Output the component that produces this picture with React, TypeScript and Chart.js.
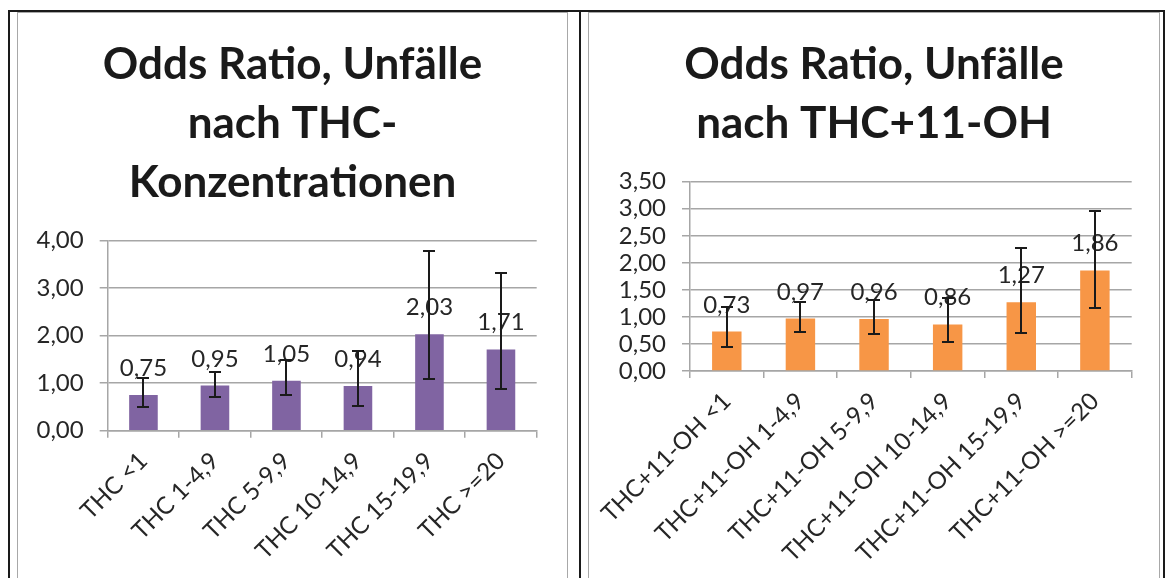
import React, { useEffect, useRef } from "react";
import { Chart, registerables } from "chart.js";

Chart.register(...registerables);

const thcCategories = ["THC <1", "THC 1-4,9", "THC 5-9,9", "THC 10-14,9", "THC 15-19,9", "THC >=20"];
const thcValues = [0.75, 0.95, 1.05, 0.94, 2.03, 1.71];
const thcUpper = [1.1, 1.24, 1.48, 1.67, 3.79, 3.32];
const thcLower = [0.5, 0.71, 0.75, 0.52, 1.08, 0.87];
const thcValueLabels = ["0,75", "0,95", "1,05", "0,94", "2,03", "1,71"];
const thcTicks = ["0,00", "1,00", "2,00", "3,00", "4,00"];
const thcTitle = ["Odds Ratio, Unfälle", "nach THC-", "Konzentrationen"];

const ohCategories = [
  "THC+11-OH <1",
  "THC+11-OH 1-4,9",
  "THC+11-OH 5-9,9",
  "THC+11-OH 10-14,9",
  "THC+11-OH 15-19,9",
  "THC+11-OH >=20",
];
const ohValues = [0.73, 0.97, 0.96, 0.86, 1.27, 1.86];
const ohUpper = [1.18, 1.27, 1.31, 1.35, 2.27, 2.96];
const ohLower = [0.44, 0.73, 0.68, 0.54, 0.71, 1.17];
const ohValueLabels = ["0,73", "0,97", "0,96", "0,86", "1,27", "1,86"];
const ohTicks = ["0,00", "0,50", "1,00", "1,50", "2,00", "2,50", "3,00", "3,50"];
const ohTitle = ["Odds Ratio, Unfälle", "nach THC+11-OH"];

const FONT = "Lato, 'Open Sans', sans-serif";
const TEXT = "#262626";
const GRID = "#a6a6a6";

type PanelProps = {
  boxLeft: number;
  boxWidth: number;
  title: string[];
  categories: string[];
  values: number[];
  upper: number[];
  lower: number[];
  valueLabels: string[];
  ticks: string[];
  max: number;
  step: number;
  color: string;
  axisWidth: number;
  padRight: number;
  padTop: number;
  xHeight: number;
};

function Panel(p: PanelProps) {
  const ref = useRef<HTMLCanvasElement | null>(null);
  const W = p.boxWidth - 2;
  const H = 565;

  useEffect(() => {
    let chart: Chart | null = null;
    let cancelled = false;
    const make = () => {
      if (cancelled || !ref.current) return;
      const overlay = {
        id: "overlay",
        afterDatasetsDraw(c: any) {
          const ctx = c.ctx;
          const meta = c.getDatasetMeta(0);
          const ys = c.scales.y;
          ctx.save();
          ctx.font = `24px ${FONT}`;
          ctx.fillStyle = TEXT;
          ctx.textAlign = "center";
          ctx.textBaseline = "alphabetic";
          meta.data.forEach((el: any, i: number) => {
            ctx.fillText(p.valueLabels[i], el.x, el.y - 19);
          });
          ctx.strokeStyle = "#1a1a1a";
          ctx.lineWidth = 2;
          meta.data.forEach((el: any, i: number) => {
            const yt = Math.round(ys.getPixelForValue(p.upper[i]));
            const yb = Math.round(ys.getPixelForValue(p.lower[i]));
            const x = Math.round(el.x);
            ctx.beginPath();
            ctx.moveTo(x, yt);
            ctx.lineTo(x, yb);
            ctx.moveTo(x - 6, yt);
            ctx.lineTo(x + 6, yt);
            ctx.moveTo(x - 6, yb);
            ctx.lineTo(x + 6, yb);
            ctx.stroke();
          });
          ctx.restore();
        },
        afterDraw(c: any) {
          const ctx = c.ctx;
          ctx.save();
          ctx.font = `bold 44px ${FONT}`;
          ctx.fillStyle = "#1a1a1a";
          ctx.textAlign = "center";
          ctx.textBaseline = "alphabetic";
          p.title.forEach((t, i) => {
            ctx.fillText(t, c.width / 2, 66 + i * 59);
          });
          ctx.restore();
        },
      };
      chart = new Chart(ref.current, {
        type: "bar",
        data: {
          labels: p.categories,
          datasets: [
            {
              data: p.values,
              backgroundColor: p.color,
              borderWidth: 0,
              categoryPercentage: 1,
              barPercentage: 0.4,
            },
          ],
        },
        options: {
          responsive: false,
          animation: false,
          devicePixelRatio: 1,
          layout: { padding: { left: 0, right: p.padRight, top: p.padTop, bottom: 0 } },
          plugins: {
            legend: { display: false },
            tooltip: { enabled: false },
            title: { display: false },
          },
          scales: {
            x: {
              offset: true,
              grid: {
                offset: true,
                drawOnChartArea: false,
                drawTicks: true,
                tickLength: 7,
                color: GRID,
                lineWidth: 1.5,
              },
              border: { display: true, color: GRID, width: 1.5 },
              ticks: {
                autoSkip: false,
                maxRotation: 45,
                minRotation: 45,
                color: TEXT,
                font: { family: FONT, size: 24 },
                padding: 9,
              },
              afterFit: (s: any) => {
                s.height = p.xHeight;
              },
            },
            y: {
              min: 0,
              max: p.max,
              grid: {
                color: GRID,
                lineWidth: 1.5,
                drawTicks: true,
                tickLength: 8,
              },
              border: { display: true, color: GRID, width: 1.5 },
              ticks: {
                autoSkip: false,
                stepSize: p.step,
                color: TEXT,
                font: { family: FONT, size: 24 },
                padding: 16,
                callback: (_v: any, i: number) => p.ticks[i],
              },
              afterFit: (s: any) => {
                s.width = p.axisWidth;
              },
            },
          },
        },
        plugins: [overlay],
      } as any);
    };
    const fonts: any = (document as any).fonts;
    if (fonts && fonts.load) {
      Promise.all([fonts.load(`24px Lato`), fonts.load(`bold 44px Lato`)])
        .catch(() => {})
        .then(make);
    } else make();
    return () => {
      cancelled = true;
      if (chart) chart.destroy();
    };
  }, []);

  return (
    <div
      style={{
        position: "absolute",
        left: p.boxLeft,
        top: 12,
        width: p.boxWidth - 2,
        height: 580,
        border: "1px solid #a8a8a8",
        background: "#fff",
      }}
    >
      <canvas ref={ref} width={W} height={H} style={{ display: "block", width: W, height: H }} />
    </div>
  );
}

export default function App() {
  const line = (s: React.CSSProperties) => (
    <div style={{ position: "absolute", background: "#1a1a1a", ...s }} />
  );
  return (
    <div style={{ position: "absolute", left: 0, top: 0, width: 1165, height: 578, overflow: "hidden", background: "#fff" }}>
      {line({ left: 8, top: 10, width: 1157, height: 2 })}
      {line({ left: 8, top: 10, width: 2, height: 570 })}
      {line({ left: 579, top: 10, width: 2, height: 570 })}
      {line({ left: 1163, top: 10, width: 2, height: 570 })}
      <Panel
        boxLeft={17}
        boxWidth={551}
        title={thcTitle}
        categories={thcCategories}
        values={thcValues}
        upper={thcUpper}
        lower={thcLower}
        valueLabels={thcValueLabels}
        ticks={thcTicks}
        max={4}
        step={1}
        color="#8064A2"
        axisWidth={89.7}
        padRight={30.3}
        padTop={227.7}
        xHeight={147.3}
      />
      <Panel
        boxLeft={588}
        boxWidth={572}
        title={ohTitle}
        categories={ohCategories}
        values={ohValues}
        upper={ohUpper}
        lower={ohLower}
        valueLabels={ohValueLabels}
        ticks={ohTicks}
        max={3.5}
        step={0.5}
        color="#F79646"
        axisWidth={97}
        padRight={27.3}
        padTop={168.7}
        xHeight={207}
      />
    </div>
  );
}
